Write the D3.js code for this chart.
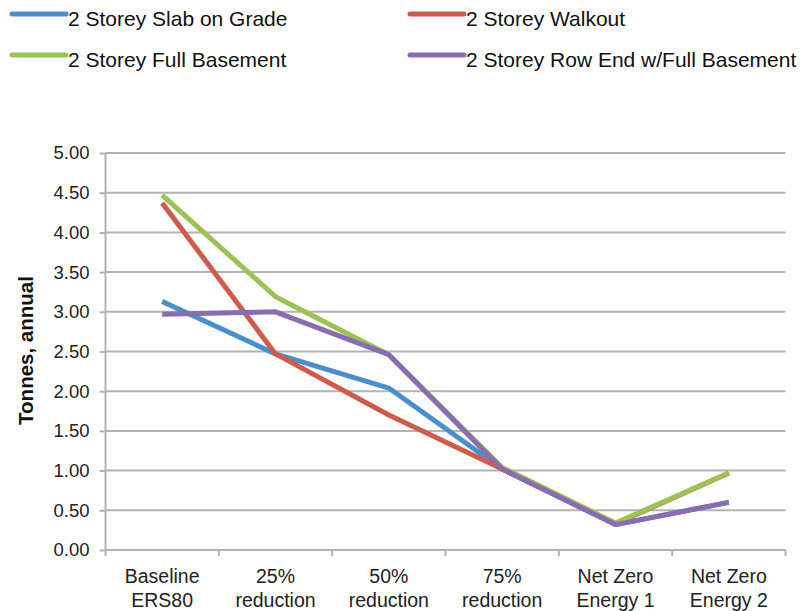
<!DOCTYPE html>
<html><head><meta charset="utf-8">
<script src="https://cdn.jsdelivr.net/npm/d3@7"></script>
<style>body{margin:0;background:#fff;} svg{display:block;font-family:"Liberation Sans",Arial,sans-serif;}</style>
</head><body>
<svg id="c" width="806" height="611"></svg>
<script>
const categories = [["Baseline","ERS80"],["25%","reduction"],["50%","reduction"],["75%","reduction"],["Net Zero","Energy 1"],["Net Zero","Energy 2"]];
const seriesNames = ["2 Storey Slab on Grade","2 Storey Walkout","2 Storey Full Basement","2 Storey Row End w/Full Basement"];
const seriesColors = ["#4a8fcc","#cf5b4d","#9cc255","#8a6cb0"];
const slabOnGrade = [3.13, 2.47, 2.04, 1.02, 0.32, 0.60];
const walkout     = [4.37, 2.47, 1.70, 1.02, 0.33, 0.97];
const fullBasement= [4.47, 3.19, 2.46, 1.04, 0.34, 0.97];
const rowEnd      = [2.97, 3.00, 2.46, 1.02, 0.32, 0.60];
const seriesValues = [slabOnGrade, walkout, fullBasement, rowEnd];
const yTicks = [0,0.5,1,1.5,2,2.5,3,3.5,4,4.5,5];

const svg = d3.select("#c");
const x0 = 105.5, x1 = 785.5, yTop = 153, yBot = 550;
const x = d3.scaleBand().domain(d3.range(categories.length)).range([x0,x1]);
const y = d3.scaleLinear().domain([0,5]).range([yBot,yTop]);

// gridlines
svg.append("g").selectAll("line").data(yTicks.filter(d=>d>0)).join("line")
  .attr("x1",x0).attr("x2",x1).attr("y1",d=>y(d)).attr("y2",d=>y(d))
  .attr("stroke","#b3b3b3").attr("stroke-width",2);

// y axis
const ya = svg.append("g").attr("transform",`translate(${x0},0)`)
  .call(d3.axisLeft(y).tickValues(yTicks).tickFormat(d3.format(".2f")).tickSize(6).tickPadding(10));
ya.select(".domain").attr("stroke","#b3b3b3").attr("stroke-width",2).attr("d",`M0,${yTop}V${yBot}`);
ya.selectAll(".tick line").attr("stroke","#b3b3b3").attr("stroke-width",2);
ya.selectAll(".tick text").attr("font-size",18.5).attr("fill","#222").attr("font-family","Liberation Sans, Arial, sans-serif");

// x axis
const xa = svg.append("g").attr("transform",`translate(0,${yBot})`);
xa.append("line").attr("x1",x0).attr("x2",x1).attr("stroke","#b3b3b3").attr("stroke-width",2);
xa.selectAll("line.t").data(d3.range(categories.length+1)).join("line").attr("class","t")
  .attr("x1",i=>x0+i*x.bandwidth()).attr("x2",i=>x0+i*x.bandwidth()).attr("y1",0).attr("y2",6)
  .attr("stroke","#b3b3b3").attr("stroke-width",2);
const xl = xa.selectAll("text").data(categories).join("text")
  .attr("text-anchor","middle").attr("font-size",19.5).attr("fill","#222")
  .attr("transform",(d,i)=>`translate(${x(i)+x.bandwidth()/2},0)`);
xl.append("tspan").attr("x",0).attr("y",33).text(d=>d[0]);
xl.append("tspan").attr("x",0).attr("y",57).text(d=>d[1]);

// y label
svg.append("text").attr("transform",`translate(33,${(yTop+yBot)/2-1}) rotate(-90)`)
  .attr("text-anchor","middle").attr("font-size",20.5).attr("font-weight","bold").attr("fill","#111")
  .text("Tonnes, annual");

// lines
const line = d3.line().x((d,i)=>x(i)+x.bandwidth()/2).y(d=>y(d));
svg.append("g").selectAll("path").data(seriesValues).join("path")
  .attr("d",line).attr("fill","none").attr("stroke",(d,i)=>seriesColors[i])
  .attr("stroke-width",5).attr("stroke-linejoin","round");

// legend
const legPos = [[12,14],[410,14],[12,55],[410,55]];
const lg = svg.append("g").selectAll("g").data(seriesNames).join("g")
  .attr("transform",(d,i)=>`translate(${legPos[i][0]},${legPos[i][1]})`);
lg.append("line").attr("x1",0).attr("x2",54).attr("stroke",(d,i)=>seriesColors[i])
  .attr("stroke-width",5).attr("stroke-linecap","round");
lg.append("text").attr("x",56).attr("y",12).attr("font-size",21).attr("fill","#111").text(d=>d);
</script>
</body></html>
